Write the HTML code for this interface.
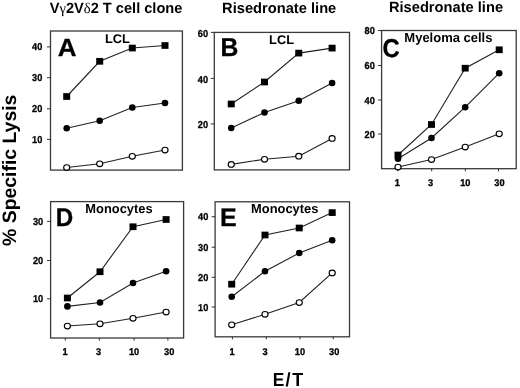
<!DOCTYPE html>
<html><head><meta charset="utf-8"><style>
html,body{margin:0;padding:0;background:#fff;}
body{width:520px;height:388px;overflow:hidden;}
svg{display:block;filter:grayscale(1);}
text{font-family:"Liberation Sans", sans-serif;font-weight:bold;fill:#000;text-rendering:geometricPrecision;}
.big{stroke:#000;stroke-width:0.3px;}
.tk{stroke:#000;stroke-width:0.3px;}
.gk{font-family:"Liberation Serif",serif;font-weight:normal;}
</style></head><body>
<svg width="520" height="388" viewBox="0 0 520 388">
<rect width="520" height="388" fill="#fff"/>
<polyline points="66.70,96.50 99.70,61.30 132.30,48.05 165.00,45.50" fill="none" stroke="#222" stroke-width="1.1"/>
<polyline points="66.70,128.25 99.70,120.75 132.30,107.50 165.00,103.00" fill="none" stroke="#222" stroke-width="1.1"/>
<polyline points="66.70,167.50 99.70,163.75 132.30,156.25 165.00,150.00" fill="none" stroke="#222" stroke-width="1.1"/>
<rect x="50.5" y="31.0" width="131.90" height="139.10" fill="none" stroke="#3a3a3a" stroke-width="1.3"/>
<line x1="47.0" y1="46.9" x2="50.5" y2="46.9" stroke="#333" stroke-width="1"/>
<text transform="translate(32.07,50.18) scale(0.920,1)" class="tk" style="font-size:10.0px">40</text>
<line x1="47.0" y1="77.7" x2="50.5" y2="77.7" stroke="#333" stroke-width="1"/>
<text transform="translate(32.07,80.98) scale(0.920,1)" class="tk" style="font-size:10.0px">30</text>
<line x1="47.0" y1="108.8" x2="50.5" y2="108.8" stroke="#333" stroke-width="1"/>
<text transform="translate(32.07,112.08) scale(0.920,1)" class="tk" style="font-size:10.0px">20</text>
<line x1="47.0" y1="139.4" x2="50.5" y2="139.4" stroke="#333" stroke-width="1"/>
<text transform="translate(32.07,142.68) scale(0.920,1)" class="tk" style="font-size:10.0px">10</text>
<rect x="63.20" y="93.15" width="7.0" height="6.7" fill="#000"/>
<rect x="96.20" y="57.95" width="7.0" height="6.7" fill="#000"/>
<rect x="128.80" y="44.70" width="7.0" height="6.7" fill="#000"/>
<rect x="161.50" y="42.15" width="7.0" height="6.7" fill="#000"/>
<circle cx="66.70" cy="128.25" r="3.3" fill="#000"/>
<circle cx="99.70" cy="120.75" r="3.3" fill="#000"/>
<circle cx="132.30" cy="107.50" r="3.3" fill="#000"/>
<circle cx="165.00" cy="103.00" r="3.3" fill="#000"/>
<ellipse cx="66.70" cy="167.50" rx="3.05" ry="2.8" fill="#fff" stroke="#000" stroke-width="1.15"/>
<ellipse cx="99.70" cy="163.75" rx="3.05" ry="2.8" fill="#fff" stroke="#000" stroke-width="1.15"/>
<ellipse cx="132.30" cy="156.25" rx="3.05" ry="2.8" fill="#fff" stroke="#000" stroke-width="1.15"/>
<ellipse cx="165.00" cy="150.00" rx="3.05" ry="2.8" fill="#fff" stroke="#000" stroke-width="1.15"/>
<polyline points="231.25,104.00 264.50,82.00 298.75,53.10 332.10,48.10" fill="none" stroke="#222" stroke-width="1.1"/>
<polyline points="231.25,128.00 264.50,112.50 298.75,100.70 332.10,83.00" fill="none" stroke="#222" stroke-width="1.1"/>
<polyline points="231.25,164.40 264.50,159.25 298.75,156.20 332.10,138.40" fill="none" stroke="#222" stroke-width="1.1"/>
<rect x="214.3" y="32.4" width="135.20" height="137.50" fill="none" stroke="#3a3a3a" stroke-width="1.3"/>
<line x1="210.8" y1="32.4" x2="214.3" y2="32.4" stroke="#333" stroke-width="1"/>
<text transform="translate(197.82,36.73) scale(0.920,1)" class="tk" style="font-size:10.0px">60</text>
<line x1="210.8" y1="78.4" x2="214.3" y2="78.4" stroke="#333" stroke-width="1"/>
<text transform="translate(197.82,82.73) scale(0.920,1)" class="tk" style="font-size:10.0px">40</text>
<line x1="210.8" y1="123.9" x2="214.3" y2="123.9" stroke="#333" stroke-width="1"/>
<text transform="translate(197.82,128.23) scale(0.920,1)" class="tk" style="font-size:10.0px">20</text>
<rect x="227.75" y="100.65" width="7.0" height="6.7" fill="#000"/>
<rect x="261.00" y="78.65" width="7.0" height="6.7" fill="#000"/>
<rect x="295.25" y="49.75" width="7.0" height="6.7" fill="#000"/>
<rect x="328.60" y="44.75" width="7.0" height="6.7" fill="#000"/>
<circle cx="231.25" cy="128.00" r="3.3" fill="#000"/>
<circle cx="264.50" cy="112.50" r="3.3" fill="#000"/>
<circle cx="298.75" cy="100.70" r="3.3" fill="#000"/>
<circle cx="332.10" cy="83.00" r="3.3" fill="#000"/>
<ellipse cx="231.25" cy="164.40" rx="3.05" ry="2.8" fill="#fff" stroke="#000" stroke-width="1.15"/>
<ellipse cx="264.50" cy="159.25" rx="3.05" ry="2.8" fill="#fff" stroke="#000" stroke-width="1.15"/>
<ellipse cx="298.75" cy="156.20" rx="3.05" ry="2.8" fill="#fff" stroke="#000" stroke-width="1.15"/>
<ellipse cx="332.10" cy="138.40" rx="3.05" ry="2.8" fill="#fff" stroke="#000" stroke-width="1.15"/>
<polyline points="398.00,155.00 431.50,124.50 465.20,68.20 499.20,49.80" fill="none" stroke="#222" stroke-width="1.1"/>
<polyline points="398.00,158.75 431.50,138.00 465.20,107.20 499.20,73.20" fill="none" stroke="#222" stroke-width="1.1"/>
<polyline points="398.00,167.00 431.50,159.50 465.20,147.00 499.20,133.75" fill="none" stroke="#222" stroke-width="1.1"/>
<rect x="381.6" y="30.5" width="134.60" height="138.20" fill="none" stroke="#3a3a3a" stroke-width="1.3"/>
<line x1="378.1" y1="30.5" x2="381.6" y2="30.5" stroke="#333" stroke-width="1"/>
<text transform="translate(364.52,34.18) scale(0.920,1)" class="tk" style="font-size:10.0px">80</text>
<line x1="378.1" y1="65.5" x2="381.6" y2="65.5" stroke="#333" stroke-width="1"/>
<text transform="translate(364.52,69.18) scale(0.920,1)" class="tk" style="font-size:10.0px">60</text>
<line x1="378.1" y1="100" x2="381.6" y2="100" stroke="#333" stroke-width="1"/>
<text transform="translate(364.52,103.68) scale(0.920,1)" class="tk" style="font-size:10.0px">40</text>
<line x1="378.1" y1="134" x2="381.6" y2="134" stroke="#333" stroke-width="1"/>
<text transform="translate(364.52,137.68) scale(0.920,1)" class="tk" style="font-size:10.0px">20</text>
<line x1="397.8" y1="168.7" x2="397.8" y2="171.29999999999998" stroke="#333" stroke-width="1"/>
<text transform="translate(394.77,186.00) scale(0.940,1)" class="tk" style="font-size:9.8px">1</text>
<line x1="431.7" y1="168.7" x2="431.7" y2="171.29999999999998" stroke="#333" stroke-width="1"/>
<text transform="translate(427.90,186.00) scale(0.940,1)" class="tk" style="font-size:9.8px">3</text>
<line x1="465.3" y1="168.7" x2="465.3" y2="171.29999999999998" stroke="#333" stroke-width="1"/>
<text transform="translate(460.19,186.00) scale(0.940,1)" class="tk" style="font-size:9.8px">10</text>
<line x1="498.5" y1="168.7" x2="498.5" y2="171.29999999999998" stroke="#333" stroke-width="1"/>
<text transform="translate(494.32,186.00) scale(0.940,1)" class="tk" style="font-size:9.8px">30</text>
<rect x="394.50" y="151.65" width="7.0" height="6.7" fill="#000"/>
<rect x="428.00" y="121.15" width="7.0" height="6.7" fill="#000"/>
<rect x="461.70" y="64.85" width="7.0" height="6.7" fill="#000"/>
<rect x="495.70" y="46.45" width="7.0" height="6.7" fill="#000"/>
<circle cx="398.00" cy="158.75" r="3.3" fill="#000"/>
<circle cx="431.50" cy="138.00" r="3.3" fill="#000"/>
<circle cx="465.20" cy="107.20" r="3.3" fill="#000"/>
<circle cx="499.20" cy="73.20" r="3.3" fill="#000"/>
<ellipse cx="398.00" cy="167.00" rx="3.05" ry="2.8" fill="#fff" stroke="#000" stroke-width="1.15"/>
<ellipse cx="431.50" cy="159.50" rx="3.05" ry="2.8" fill="#fff" stroke="#000" stroke-width="1.15"/>
<ellipse cx="465.20" cy="147.00" rx="3.05" ry="2.8" fill="#fff" stroke="#000" stroke-width="1.15"/>
<ellipse cx="499.20" cy="133.75" rx="3.05" ry="2.8" fill="#fff" stroke="#000" stroke-width="1.15"/>
<polyline points="67.40,298.00 100.00,271.75 133.00,226.75 166.10,219.50" fill="none" stroke="#222" stroke-width="1.1"/>
<polyline points="67.40,306.40 100.00,302.50 133.00,283.00 166.10,271.25" fill="none" stroke="#222" stroke-width="1.1"/>
<polyline points="67.40,326.00 100.00,323.75 133.00,318.25 166.10,312.00" fill="none" stroke="#222" stroke-width="1.1"/>
<rect x="50.6" y="201.6" width="133.00" height="136.40" fill="none" stroke="#3a3a3a" stroke-width="1.3"/>
<line x1="47.1" y1="221.4" x2="50.6" y2="221.4" stroke="#333" stroke-width="1"/>
<text transform="translate(32.94,225.08) scale(0.920,1)" class="tk" style="font-size:10.0px">30</text>
<line x1="47.1" y1="260.5" x2="50.6" y2="260.5" stroke="#333" stroke-width="1"/>
<text transform="translate(32.94,264.18) scale(0.920,1)" class="tk" style="font-size:10.0px">20</text>
<line x1="47.1" y1="298.8" x2="50.6" y2="298.8" stroke="#333" stroke-width="1"/>
<text transform="translate(32.94,302.48) scale(0.920,1)" class="tk" style="font-size:10.0px">10</text>
<line x1="65.3" y1="338.0" x2="65.3" y2="340.6" stroke="#333" stroke-width="1"/>
<text transform="translate(62.47,355.20) scale(0.940,1)" class="tk" style="font-size:9.8px">1</text>
<line x1="99.4" y1="338.0" x2="99.4" y2="340.6" stroke="#333" stroke-width="1"/>
<text transform="translate(96.10,355.20) scale(0.940,1)" class="tk" style="font-size:9.8px">3</text>
<line x1="134.1" y1="338.0" x2="134.1" y2="340.6" stroke="#333" stroke-width="1"/>
<text transform="translate(128.99,355.20) scale(0.940,1)" class="tk" style="font-size:9.8px">10</text>
<line x1="167.9" y1="338.0" x2="167.9" y2="340.6" stroke="#333" stroke-width="1"/>
<text transform="translate(164.02,355.20) scale(0.940,1)" class="tk" style="font-size:9.8px">30</text>
<rect x="63.90" y="294.65" width="7.0" height="6.7" fill="#000"/>
<rect x="96.50" y="268.40" width="7.0" height="6.7" fill="#000"/>
<rect x="129.50" y="223.40" width="7.0" height="6.7" fill="#000"/>
<rect x="162.60" y="216.15" width="7.0" height="6.7" fill="#000"/>
<circle cx="67.40" cy="306.40" r="3.3" fill="#000"/>
<circle cx="100.00" cy="302.50" r="3.3" fill="#000"/>
<circle cx="133.00" cy="283.00" r="3.3" fill="#000"/>
<circle cx="166.10" cy="271.25" r="3.3" fill="#000"/>
<ellipse cx="67.40" cy="326.00" rx="3.05" ry="2.8" fill="#fff" stroke="#000" stroke-width="1.15"/>
<ellipse cx="100.00" cy="323.75" rx="3.05" ry="2.8" fill="#fff" stroke="#000" stroke-width="1.15"/>
<ellipse cx="133.00" cy="318.25" rx="3.05" ry="2.8" fill="#fff" stroke="#000" stroke-width="1.15"/>
<ellipse cx="166.10" cy="312.00" rx="3.05" ry="2.8" fill="#fff" stroke="#000" stroke-width="1.15"/>
<polyline points="231.70,284.20 265.00,235.00 299.25,228.00 332.20,212.60" fill="none" stroke="#222" stroke-width="1.1"/>
<polyline points="231.70,296.75 265.00,271.30 299.25,253.00 332.20,240.20" fill="none" stroke="#222" stroke-width="1.1"/>
<polyline points="231.70,324.80 265.00,314.25 299.25,302.50 332.20,272.90" fill="none" stroke="#222" stroke-width="1.1"/>
<rect x="215.1" y="201.8" width="134.40" height="135.00" fill="none" stroke="#3a3a3a" stroke-width="1.3"/>
<line x1="211.6" y1="216.7" x2="215.1" y2="216.7" stroke="#333" stroke-width="1"/>
<text transform="translate(198.07,220.23) scale(0.920,1)" class="tk" style="font-size:10.0px">40</text>
<line x1="211.6" y1="247.2" x2="215.1" y2="247.2" stroke="#333" stroke-width="1"/>
<text transform="translate(198.07,250.73) scale(0.920,1)" class="tk" style="font-size:10.0px">30</text>
<line x1="211.6" y1="277.3" x2="215.1" y2="277.3" stroke="#333" stroke-width="1"/>
<text transform="translate(198.07,280.83) scale(0.920,1)" class="tk" style="font-size:10.0px">20</text>
<line x1="211.6" y1="307" x2="215.1" y2="307" stroke="#333" stroke-width="1"/>
<text transform="translate(198.07,310.53) scale(0.920,1)" class="tk" style="font-size:10.0px">10</text>
<line x1="232.4" y1="336.8" x2="232.4" y2="339.40000000000003" stroke="#333" stroke-width="1"/>
<text transform="translate(229.57,355.20) scale(0.940,1)" class="tk" style="font-size:9.8px">1</text>
<line x1="266.25" y1="336.8" x2="266.25" y2="339.40000000000003" stroke="#333" stroke-width="1"/>
<text transform="translate(262.40,355.20) scale(0.940,1)" class="tk" style="font-size:9.8px">3</text>
<line x1="300" y1="336.8" x2="300" y2="339.40000000000003" stroke="#333" stroke-width="1"/>
<text transform="translate(294.79,355.20) scale(0.940,1)" class="tk" style="font-size:9.8px">10</text>
<line x1="333.25" y1="336.8" x2="333.25" y2="339.40000000000003" stroke="#333" stroke-width="1"/>
<text transform="translate(329.02,355.20) scale(0.940,1)" class="tk" style="font-size:9.8px">30</text>
<rect x="228.20" y="280.85" width="7.0" height="6.7" fill="#000"/>
<rect x="261.50" y="231.65" width="7.0" height="6.7" fill="#000"/>
<rect x="295.75" y="224.65" width="7.0" height="6.7" fill="#000"/>
<rect x="328.70" y="209.25" width="7.0" height="6.7" fill="#000"/>
<circle cx="231.70" cy="296.75" r="3.3" fill="#000"/>
<circle cx="265.00" cy="271.30" r="3.3" fill="#000"/>
<circle cx="299.25" cy="253.00" r="3.3" fill="#000"/>
<circle cx="332.20" cy="240.20" r="3.3" fill="#000"/>
<ellipse cx="231.70" cy="324.80" rx="3.05" ry="2.8" fill="#fff" stroke="#000" stroke-width="1.15"/>
<ellipse cx="265.00" cy="314.25" rx="3.05" ry="2.8" fill="#fff" stroke="#000" stroke-width="1.15"/>
<ellipse cx="299.25" cy="302.50" rx="3.05" ry="2.8" fill="#fff" stroke="#000" stroke-width="1.15"/>
<ellipse cx="332.20" cy="272.90" rx="3.05" ry="2.8" fill="#fff" stroke="#000" stroke-width="1.15"/>
<text transform="translate(49.71,12.60) scale(0.990,1)" style="font-size:14.75px">V<tspan class="gk">γ</tspan>2V<tspan class="gk">δ</tspan>2 T cell clone</text>
<text transform="translate(222.09,12.90) scale(0.995,1)" style="font-size:14.75px">Risedronate line</text>
<text transform="translate(388.89,12.40) scale(0.995,1)" style="font-size:14.75px">Risedronate line</text>
<text transform="translate(57.65,56.45) scale(1.050,1)" style="font-size:24.8px" class="big">A</text>
<text transform="translate(220.45,56.05) scale(0.955,1)" style="font-size:25.9px" class="big">B</text>
<text transform="translate(382.61,56.69) scale(0.918,1)" style="font-size:25.8px" class="big">C</text>
<text transform="translate(55.64,226.15) scale(0.950,1)" style="font-size:25.45px" class="big">D</text>
<text transform="translate(220.08,226.15) scale(0.976,1)" style="font-size:25.6px" class="big">E</text>
<text transform="translate(104.97,42.67) scale(1.020,1)" style="font-size:12.6px">LCL</text>
<text transform="translate(269.07,43.97) scale(1.020,1)" style="font-size:12.6px">LCL</text>
<text transform="translate(404.36,42.35) scale(0.984,1)" style="font-size:13.2px">Myeloma cells</text>
<text transform="translate(85.37,213.00) scale(0.990,1)" style="font-size:13.0px">Monocytes</text>
<text transform="translate(251.12,213.30) scale(0.990,1)" style="font-size:13.0px">Monocytes</text>
<text transform="translate(16.2,245.9) rotate(-90)" style="font-size:19.4px">% Specific Lysis</text>
<text transform="translate(272.75,385.60) scale(0.920,1)" style="font-size:18.9px">E</text>
<text transform="translate(285.62,386.10) scale(0.970,1)" style="font-size:18.9px">/</text>
<text transform="translate(292.23,385.60) scale(0.946,1)" style="font-size:18.9px">T</text>
</svg>
</body></html>
